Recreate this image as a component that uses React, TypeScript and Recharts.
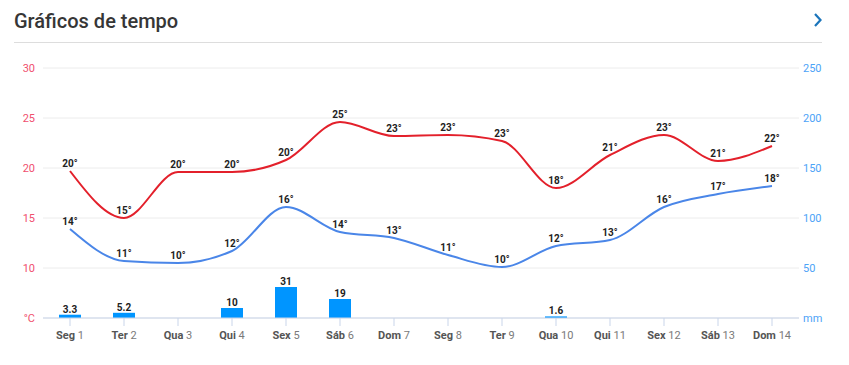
import React from 'react';
import { ComposedChart, Line, Bar, XAxis, YAxis, CartesianGrid, LabelList } from 'recharts';

const days = ['Seg 1', 'Ter 2', 'Qua 3', 'Qui 4', 'Sex 5', 'Sáb 6', 'Dom 7', 'Seg 8', 'Ter 9', 'Qua 10', 'Qui 11', 'Sex 12', 'Sáb 13', 'Dom 14'];
const tempMax = [19.7, 15.0, 19.6, 19.6, 20.8, 24.6, 23.2, 23.3, 22.7, 18.0, 21.3, 23.3, 20.7, 22.2];
const tempMin = [13.9, 10.7, 10.5, 11.7, 16.1, 13.6, 13.0, 11.3, 10.1, 12.2, 12.8, 16.1, 17.4, 18.2];
const maxLabels = [20, 15, 20, 20, 20, 25, 23, 23, 23, 18, 21, 23, 21, 22];
const minLabels = [14, 11, 10, 12, 16, 14, 13, 11, 10, 12, 13, 16, 17, 18];
const precip: (number | null)[] = [3.3, 5.2, null, 10, 31, 19, null, null, null, 1.6, null, null, null, null];
const tempTicks = [5, 10, 15, 20, 25, 30];
const mmTicks = [0, 50, 100, 150, 200, 250];

const data = days.map((d, i) => ({
  day: d,
  max: tempMax[i],
  min: tempMin[i],
  maxL: maxLabels[i],
  minL: minLabels[i],
  rain: precip[i],
}));

const FONT = 'Roboto, "Noto Sans", sans-serif';

const DayTick = (props: any) => {
  const { x, y, payload } = props;
  const parts = String(payload.value).split(' ');
  return (
    <text x={x} y={y} dy={11} textAnchor="middle" fontSize={11} fontFamily={FONT}>
      <tspan fontWeight={700} fill="#555">{parts[0]}</tspan>
      <tspan fill="#7a7a7a"> {parts[1]}</tspan>
    </text>
  );
};

const labelStyle = { fontSize: 10, fontWeight: 700, fill: '#222', fontFamily: FONT };

export default function App() {
  return (
    <div style={{ position: 'absolute', left: 0, top: 0, width: 849, height: 365, background: '#fff', fontFamily: FONT }}>
      <div style={{ position: 'absolute', left: 14, top: 8, fontSize: 20, fontWeight: 500, color: '#363636', lineHeight: '26px' }}>
        Gráficos de tempo
      </div>
      <svg style={{ position: 'absolute', left: 811, top: 11 }} width={14} height={18}>
        <polyline points="4,3 9.5,9 4,15" fill="none" stroke="#1b75bb" strokeWidth={2.2} />
      </svg>
      <div style={{ position: 'absolute', left: 14, top: 42, width: 808, height: 1, background: '#dddddd' }} />
      <div style={{ position: 'absolute', left: 0, top: 0 }}>
        <ComposedChart
          width={849}
          height={365}
          data={data}
          margin={{ top: 68, right: 0, bottom: 17, left: 0 }}
        >
          <CartesianGrid yAxisId="t" horizontal vertical={false} stroke="#ececec" />
          <XAxis
            dataKey="day"
            height={30}
            interval={0}
            axisLine={{ stroke: '#c9d5ea' }}
            tickLine={{ stroke: '#c9d5ea' }}
            tickSize={8}
            tick={<DayTick />}
          />
          <YAxis
            yAxisId="t"
            orientation="left"
            width={43}
            domain={[5, 30]}
            ticks={tempTicks}
            allowDataOverflow
            axisLine={false}
            tickLine={false}
            tick={{ fill: '#f0506e', fontSize: 11, fontFamily: FONT }}
            tickFormatter={(v: number) => (v === 5 ? '°C' : String(v))}
          />
          <YAxis
            yAxisId="mm"
            orientation="right"
            width={50}
            domain={[0, 250]}
            ticks={mmTicks}
            axisLine={false}
            tickLine={false}
            tickSize={4}
            tickMargin={0}
            tick={{ fill: '#4da3f7', fontSize: 11, fontFamily: FONT, textAnchor: 'start' }}
            tickFormatter={(v: number) => (v === 0 ? 'mm' : String(v))}
          />
          <Bar yAxisId="mm" dataKey="rain" barSize={22} fill="#0095ff" isAnimationActive={false}>
            <LabelList
              dataKey="rain"
              position="top"
              offset={2}
              style={labelStyle}
              formatter={(v: any) => (v == null ? '' : String(v))}
            />
          </Bar>
          <Line
            yAxisId="t"
            type="monotone"
            dataKey="max"
            stroke="#e3202b"
            strokeWidth={2}
            dot={false}
            isAnimationActive={false}
          >
            <LabelList dataKey="maxL" position="top" offset={4} style={labelStyle} formatter={(v: any) => `${v}°`} />
          </Line>
          <Line
            yAxisId="t"
            type="monotone"
            dataKey="min"
            stroke="#4a86e8"
            strokeWidth={2}
            dot={false}
            isAnimationActive={false}
          >
            <LabelList dataKey="minL" position="top" offset={4} style={labelStyle} formatter={(v: any) => `${v}°`} />
          </Line>
        </ComposedChart>
      </div>
    </div>
  );
}
